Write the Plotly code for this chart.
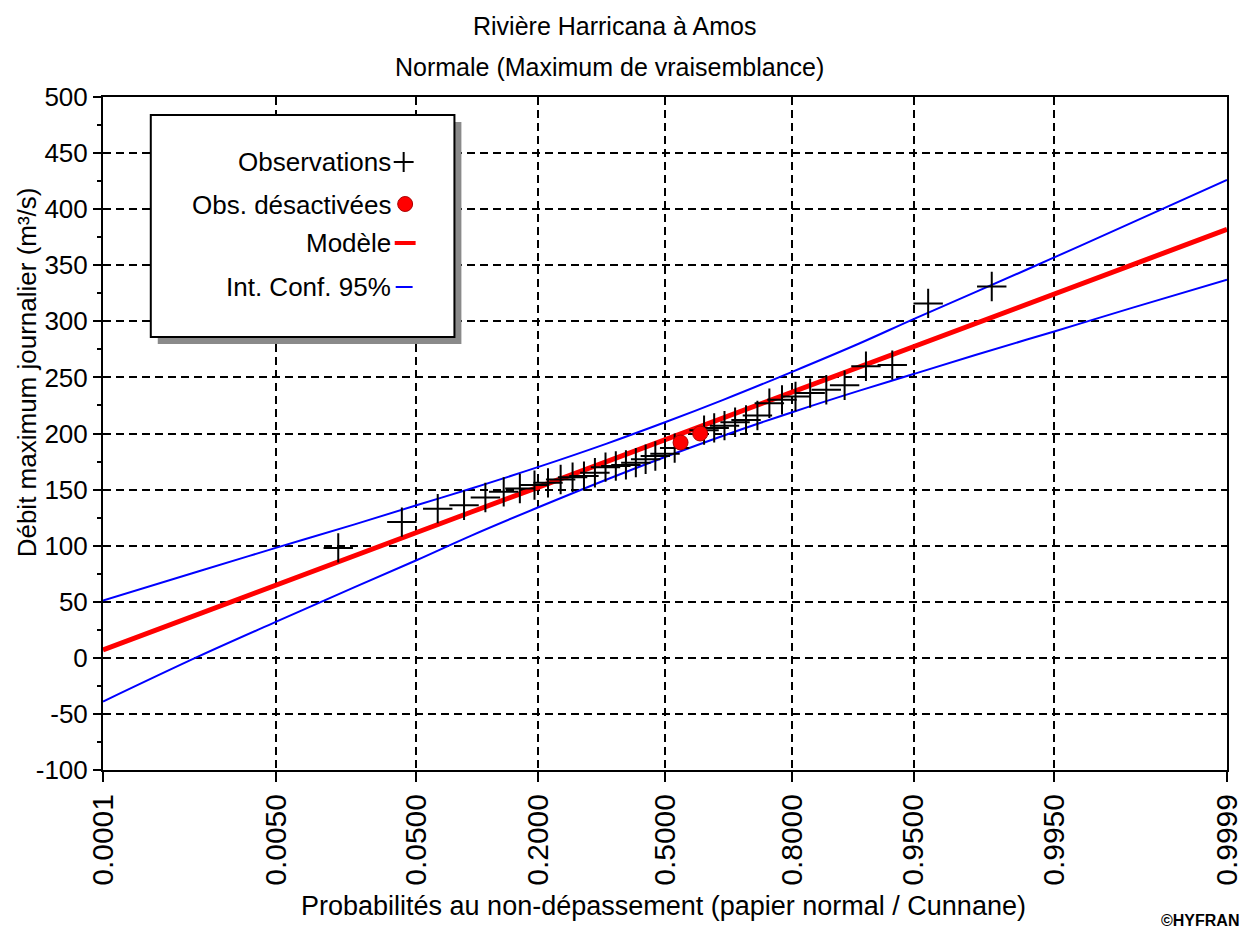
import plotly.graph_objects as go
from statistics import NormalDist

# ---------------- data ----------------
tick_prob = [0.0001, 0.005, 0.05, 0.2, 0.5, 0.8, 0.95, 0.995, 0.9999]
tick_labels = ["0.0001", "0.0050", "0.0500", "0.2000", "0.5000",
               "0.8000", "0.9500", "0.9950", "0.9999"]
y_ticks = [-100, -50, 0, 50, 100, 150, 200, 250, 300, 350, 400, 450, 500]
y_tick_labels = ["-100", "-50", "0", "50", "100", "150", "200", "250", "300",
                 "350", "400", "450", "500"]

obs_prob = [0.0153, 0.0408, 0.0663, 0.0918, 0.1173, 0.1429, 0.1684, 0.1939,
            0.2194, 0.2449, 0.2704, 0.2959, 0.3214, 0.3469, 0.3724, 0.3980,
            0.4235, 0.4490, 0.4745, 0.5000, 0.5255, 0.6020, 0.6276, 0.6531,
            0.6786, 0.7041, 0.7296, 0.7551, 0.7806, 0.8061, 0.8316, 0.8571,
            0.8827, 0.9082, 0.9337, 0.9592, 0.9847]
obs_value = [98, 121, 133, 136, 143, 148, 151, 154, 156, 159, 161, 162, 165,
             170, 171, 172, 174, 177, 180, 182, 187, 203, 205, 207, 210, 212,
             216, 227, 230, 233, 236, 239, 243, 260, 261, 316, 331]

off_prob = [0.541, 0.592]
off_value = [192, 200]

curve_prob = [0.0001, 0.001, 0.005, 0.02, 0.05, 0.1, 0.2, 0.35, 0.5,
              0.65, 0.8, 0.9, 0.95, 0.98, 0.995, 0.999, 0.9999]
model_value = [7, 39, 65, 91, 112, 130, 152, 175, 194, 214, 237, 259, 277,
               298, 324, 350, 382]
ci_upper = [51, 77, 98, 119, 136, 151, 170, 191, 210, 230, 255, 280, 302,
            326, 357, 388, 426]
ci_lower = [-39, 1, 32, 63, 87, 109, 134, 159, 179, 198, 219, 238, 253,
            270, 291, 312, 337]

# ---------------- normal probability paper ----------------
nd = NormalDist()


def zq(ps):
    return [nd.inv_cdf(p) for p in ps]


# reference-pixel geometry of the plot area
L, R, T, B = 103, 1232, 97, 770
OFF = 8                      # page body margin of the rendered html
W, H = 1255 - OFF, 931 - OFF


def px(x):
    return (x - L) / (R - L)


def py(y):
    return (B - y) / (B - T)


FONT = "Liberation Sans, Arial, sans-serif"

fig = go.Figure()

fig.add_trace(go.Scatter(x=zq(curve_prob), y=ci_upper, mode="lines",
                         line=dict(color="#0000ff", width=2, shape="spline"),
                         name="Int. Conf. 95%", showlegend=False))
fig.add_trace(go.Scatter(x=zq(curve_prob), y=ci_lower, mode="lines",
                         line=dict(color="#0000ff", width=2, shape="spline"),
                         showlegend=False))
fig.add_trace(go.Scatter(x=zq(curve_prob), y=model_value, mode="lines",
                         line=dict(color="#ff0000", width=5),
                         name="Modèle", showlegend=False))
fig.add_trace(go.Scatter(x=zq(obs_prob), y=obs_value, mode="markers",
                         marker=dict(symbol="cross-thin-open", size=21,
                                     color="black",
                                     line=dict(color="black", width=2)),
                         name="Observations", showlegend=False))
fig.add_trace(go.Scatter(x=zq(off_prob), y=off_value, mode="markers",
                         marker=dict(symbol="circle", size=15, color="#ff0000",
                                     line=dict(color="#aa0000", width=1)),
                         name="Obs. désactivées", showlegend=False))

grid = dict(showgrid=True, gridcolor="black", gridwidth=1.6, griddash="8px,5px",
            zeroline=False, showline=True, linecolor="black", linewidth=2,
            mirror=True)

fig.update_xaxes(range=[nd.inv_cdf(0.0001), nd.inv_cdf(0.9999)],
                 tickmode="array", tickvals=zq(tick_prob), ticktext=tick_labels,
                 tickangle=-90, ticks="outside", ticklen=10, tickwidth=1.5,
                 tickcolor="black",
                 tickfont=dict(family=FONT, size=30, color="black"), **grid)
fig.update_yaxes(range=[-100, 500], tickmode="array", tickvals=y_ticks,
                 ticktext=y_tick_labels, ticks="outside",
                 ticklen=8, tickwidth=1.5, tickcolor="black",
                 minor=dict(dtick=25, tick0=0, ticks="outside", ticklen=4,
                            tickwidth=1.5, tickcolor="black", showgrid=False),
                 tickfont=dict(family=FONT, size=26, color="black"), **grid)

shapes = []
# legend shadow + box
shapes.append(dict(type="rect", xref="paper", yref="paper",
                   x0=px(158), x1=px(463), y0=py(344), y1=py(122),
                   fillcolor="#8a8a8a", line=dict(width=0)))
shapes.append(dict(type="rect", xref="paper", yref="paper",
                   x0=px(151), x1=px(456), y0=py(337), y1=py(115),
                   fillcolor="white", line=dict(color="black", width=2)))
# legend keys
shapes.append(dict(type="line", xref="paper", yref="paper",
                   x0=px(395), x1=px(415), y0=py(162), y1=py(162),
                   line=dict(color="black", width=2)))
shapes.append(dict(type="line", xref="paper", yref="paper",
                   x0=px(405), x1=px(405), y0=py(152), y1=py(172),
                   line=dict(color="black", width=2)))
shapes.append(dict(type="circle", xref="paper", yref="paper",
                   x0=px(399), x1=px(414), y0=py(211.5), y1=py(196.5),
                   fillcolor="#ff0000", line=dict(color="#aa0000", width=1)))
shapes.append(dict(type="line", xref="paper", yref="paper",
                   x0=px(396), x1=px(417), y0=py(243), y1=py(243),
                   line=dict(color="#ff0000", width=4)))
shapes.append(dict(type="line", xref="paper", yref="paper",
                   x0=px(397), x1=px(414), y0=py(287), y1=py(287),
                   line=dict(color="#0000ff", width=2)))

ann = []
for txt, yy in [("Observations", 162), ("Obs. désactivées", 205),
                ("Modèle", 243), ("Int. Conf. 95%", 287)]:
    ann.append(dict(text=txt, xref="paper", yref="paper", x=px(394), y=py(yy),
                    xanchor="right", yanchor="middle", showarrow=False,
                    font=dict(family=FONT, size=26, color="black")))

ann.append(dict(text="Rivière Harricana à Amos", xref="paper", yref="paper",
                x=px(617), y=py(26), xanchor="center", yanchor="middle",
                showarrow=False, font=dict(family=FONT, size=25, color="black")))
ann.append(dict(text="Normale (Maximum de vraisemblance)", xref="paper",
                yref="paper", x=px(612), y=py(67), xanchor="center",
                yanchor="middle", showarrow=False,
                font=dict(family=FONT, size=25, color="black")))
ann.append(dict(text="Probabilités au non-dépassement (papier normal / Cunnane)",
                xref="paper", yref="paper", x=px(666), y=py(906),
                xanchor="center", yanchor="middle", showarrow=False,
                font=dict(family=FONT, size=27, color="black")))
ann.append(dict(text="Débit maximum journalier (m³/s)", xref="paper",
                yref="paper", x=px(27), y=py(372), xanchor="center",
                yanchor="middle", textangle=-90, showarrow=False,
                font=dict(family=FONT, size=26, color="black")))
ann.append(dict(text="<b>©HYFRAN</b>", xref="paper", yref="paper",
                x=px(1246), y=py(920), xanchor="right", yanchor="middle",
                showarrow=False, font=dict(family=FONT, size=16, color="black")))

fig.update_layout(width=W, height=H, autosize=False,
                  margin=dict(l=L - OFF, r=(1255 - R), t=T - OFF,
                              b=(931 - B), pad=0),
                  paper_bgcolor="white", plot_bgcolor="white",
                  showlegend=False, shapes=shapes, annotations=ann)

fig.write_html("out.html")
